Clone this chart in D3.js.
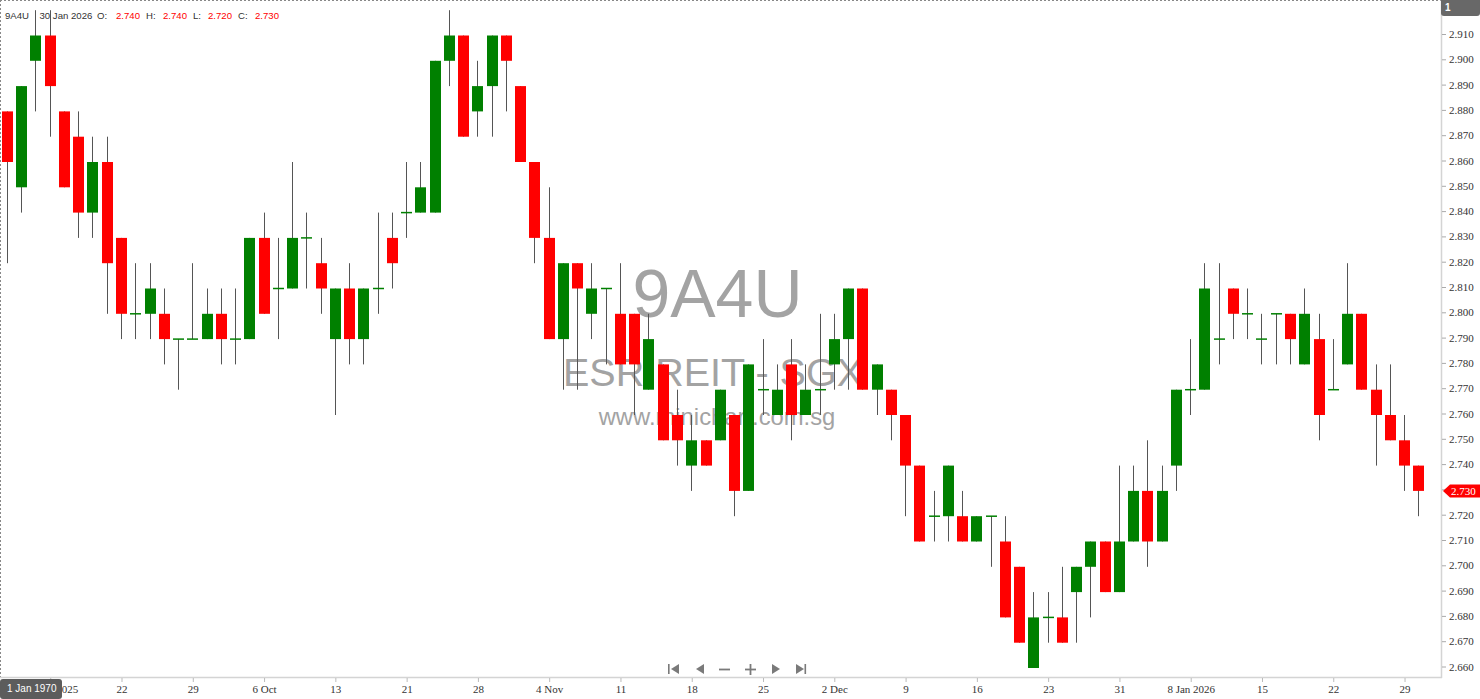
<!DOCTYPE html>
<html><head><meta charset="utf-8">
<script src="https://cdn.jsdelivr.net/npm/d3@7"></script>
<style>html,body{margin:0;padding:0;background:#fff;overflow:hidden}</style>
</head><body>
<svg id="chart" width="1480" height="699"></svg>
<script>
const dates = [
"2025-09-10","2025-09-11","2025-09-12","2025-09-15","2025-09-16","2025-09-17","2025-09-18","2025-09-19","2025-09-22","2025-09-23",
"2025-09-24","2025-09-25","2025-09-26","2025-09-29","2025-09-30","2025-10-01","2025-10-02","2025-10-03","2025-10-06","2025-10-07",
"2025-10-08","2025-10-09","2025-10-10","2025-10-13","2025-10-14","2025-10-15","2025-10-16","2025-10-17","2025-10-21","2025-10-22",
"2025-10-23","2025-10-24","2025-10-27","2025-10-28","2025-10-29","2025-10-30","2025-10-31","2025-11-03","2025-11-04","2025-11-05",
"2025-11-06","2025-11-07","2025-11-10","2025-11-11","2025-11-12","2025-11-13","2025-11-14","2025-11-17","2025-11-18","2025-11-19",
"2025-11-20","2025-11-21","2025-11-24","2025-11-25","2025-11-26","2025-11-27","2025-11-28","2025-12-01","2025-12-02","2025-12-03",
"2025-12-04","2025-12-05","2025-12-08","2025-12-09","2025-12-10","2025-12-11","2025-12-12","2025-12-15","2025-12-16","2025-12-17",
"2025-12-18","2025-12-19","2025-12-22","2025-12-23","2025-12-24","2025-12-26","2025-12-29","2025-12-30","2025-12-31","2026-01-02",
"2026-01-05","2026-01-06","2026-01-07","2026-01-08","2026-01-09","2026-01-12","2026-01-13","2026-01-14","2026-01-15","2026-01-16",
"2026-01-19","2026-01-20","2026-01-21","2026-01-22","2026-01-23","2026-01-26","2026-01-27","2026-01-28","2026-01-29","2026-01-30"];

const open = [
2.88,2.85,2.90,2.91,2.88,2.87,2.84,2.86,2.83,2.80,
2.80,2.80,2.79,2.79,2.79,2.80,2.79,2.79,2.83,2.81,
2.81,2.83,2.82,2.79,2.81,2.79,2.81,2.83,2.84,2.84,
2.84,2.90,2.91,2.88,2.89,2.91,2.89,2.86,2.83,2.79,
2.82,2.80,2.81,2.80,2.80,2.77,2.78,2.76,2.74,2.75,
2.75,2.76,2.73,2.77,2.76,2.78,2.76,2.77,2.78,2.79,
2.81,2.77,2.77,2.76,2.74,2.72,2.72,2.72,2.71,2.72,
2.71,2.70,2.66,2.68,2.68,2.69,2.70,2.71,2.69,2.71,
2.73,2.71,2.74,2.77,2.77,2.79,2.81,2.80,2.79,2.80,
2.80,2.78,2.79,2.77,2.78,2.80,2.77,2.76,2.75,2.74];
const high = [
2.88,2.89,2.92,2.92,2.88,2.88,2.87,2.87,2.83,2.82,
2.82,2.81,2.79,2.82,2.81,2.81,2.81,2.83,2.84,2.83,
2.86,2.84,2.83,2.81,2.82,2.81,2.84,2.84,2.86,2.86,
2.90,2.92,2.91,2.90,2.91,2.91,2.89,2.86,2.85,2.82,
2.82,2.82,2.81,2.82,2.80,2.80,2.78,2.77,2.76,2.75,
2.77,2.76,2.78,2.79,2.78,2.79,2.78,2.80,2.80,2.81,
2.81,2.78,2.77,2.76,2.74,2.73,2.74,2.73,2.72,2.72,
2.72,2.70,2.69,2.69,2.70,2.70,2.71,2.71,2.74,2.74,
2.75,2.74,2.77,2.79,2.82,2.82,2.81,2.81,2.80,2.80,
2.80,2.81,2.80,2.79,2.82,2.80,2.78,2.78,2.76,2.74];
const low = [
2.82,2.84,2.88,2.87,2.85,2.83,2.83,2.80,2.79,2.79,
2.79,2.78,2.77,2.79,2.79,2.78,2.78,2.79,2.80,2.79,
2.81,2.81,2.80,2.76,2.78,2.78,2.80,2.81,2.83,2.84,
2.84,2.89,2.87,2.87,2.87,2.88,2.86,2.82,2.79,2.77,
2.77,2.79,2.78,2.78,2.76,2.77,2.75,2.74,2.73,2.74,
2.75,2.72,2.73,2.76,2.76,2.75,2.76,2.76,2.77,2.77,
2.77,2.76,2.75,2.72,2.71,2.71,2.71,2.71,2.71,2.70,
2.68,2.67,2.66,2.67,2.67,2.67,2.68,2.69,2.69,2.71,
2.70,2.71,2.73,2.76,2.77,2.78,2.79,2.79,2.78,2.78,
2.78,2.78,2.75,2.77,2.78,2.77,2.74,2.75,2.73,2.72];
const close = [
2.86,2.89,2.91,2.89,2.85,2.84,2.86,2.82,2.80,2.80,
2.81,2.79,2.79,2.79,2.80,2.79,2.79,2.83,2.80,2.81,
2.83,2.83,2.81,2.81,2.79,2.81,2.81,2.82,2.84,2.85,
2.90,2.91,2.87,2.89,2.91,2.90,2.86,2.83,2.79,2.82,
2.81,2.81,2.81,2.78,2.78,2.79,2.75,2.75,2.75,2.74,
2.77,2.73,2.78,2.77,2.77,2.76,2.77,2.77,2.79,2.81,
2.77,2.78,2.76,2.74,2.71,2.72,2.74,2.71,2.72,2.72,
2.68,2.67,2.68,2.68,2.67,2.70,2.71,2.69,2.71,2.73,
2.71,2.73,2.77,2.77,2.81,2.79,2.80,2.80,2.79,2.80,
2.79,2.80,2.76,2.77,2.80,2.77,2.76,2.75,2.74,2.73];

const tickDates = ["2025-09-15","2025-09-22","2025-09-29","2025-10-06","2025-10-13","2025-10-21","2025-10-28","2025-11-04","2025-11-11","2025-11-18",
"2025-11-25","2025-12-02","2025-12-09","2025-12-16","2025-12-23","2025-12-31","2026-01-08","2026-01-15","2026-01-22","2026-01-29"];
const tickLabels = ["15 Sep 2025","22","29","6 Oct","13","21","28","4 Nov","11","18","25","2 Dec","9","16","23","31","8 Jan 2026","15","22","29"];
const priceTicks = [2.66,2.67,2.68,2.69,2.70,2.71,2.72,2.73,2.74,2.75,2.76,2.77,2.78,2.79,2.80,2.81,2.82,2.83,2.84,2.85,2.86,2.87,2.88,2.89,2.90,2.91];
const symbol = "9A4U";
const companyName = "ESR REIT - SGX";
const site = "www.minichart.com.sg";

const UP = "#008000", DOWN = "#ff0000", WICK = "#555555";
const svg = d3.select("#chart");
const x = d3.scaleLinear().domain([0, dates.length - 1]).range([6.96, 1418.3]);
const y = d3.scaleLinear().domain([2.66, 2.91]).range([668, 35.5]);
const plotRight = 1441, plotBottom = 677;

// watermark
const wm = svg.append("g").attr("font-family", "'Liberation Sans', Arial, sans-serif").attr("fill", "#a3a3a3").attr("text-anchor", "middle");
wm.append("text").attr("x", 717.5).attr("y", 317).attr("font-size", 68).text(symbol);
wm.append("text").attr("x", 713).attr("y", 386).attr("font-size", 39.5).text(companyName);
wm.append("text").attr("x", 717).attr("y", 425).attr("font-size", 23.8).text(site);

// borders
svg.append("line").attr("x1", 0).attr("x2", plotRight).attr("y1", 0.5).attr("y2", 0.5).attr("stroke", "#888").attr("stroke-dasharray", "2,2");
svg.append("line").attr("x1", 0.5).attr("x2", 0.5).attr("y1", 0).attr("y2", plotBottom).attr("stroke", "#888").attr("stroke-dasharray", "2,2");

// candles
const idx = d3.range(dates.length);
const cx = i => Math.round(x(i)) + 0.5;
const g = svg.append("g");
g.selectAll("line.wick").data(idx).join("line").attr("class", "wick")
  .attr("x1", cx).attr("x2", cx)
  .attr("y1", i => y(high[i])).attr("y2", i => y(low[i]))
  .attr("stroke", WICK).attr("stroke-width", 1);
g.selectAll("rect.body").data(idx.filter(i => open[i] !== close[i])).join("rect").attr("class", "body")
  .attr("x", i => cx(i) - 5.5).attr("width", 11)
  .attr("y", i => y(Math.max(open[i], close[i])))
  .attr("height", i => Math.abs(y(open[i]) - y(close[i])))
  .attr("fill", i => close[i] > open[i] ? UP : DOWN);
g.selectAll("line.doji").data(idx.filter(i => open[i] === close[i])).join("line").attr("class", "doji")
  .attr("x1", i => cx(i) - 5.5).attr("x2", i => cx(i) + 5.5)
  .attr("y1", i => y(close[i])).attr("y2", i => y(close[i]))
  .attr("stroke", UP).attr("stroke-width", 1.5);

// header
const last = dates.length - 1;
const hdr = svg.append("g").attr("font-family", "'Liberation Sans', Arial, sans-serif").attr("font-size", 9.6);
const fmt = d3.format(".3f");
const lastDate = d3.timeFormat("%-d %b %Y")(d3.timeParse("%Y-%m-%d")(dates[last]));
const valColor = close[last] >= open[last] ? UP : DOWN;
[[5, symbol, "#333"], [39.5, lastDate, "#333"], [97, "O:", "#333"], [116, fmt(open[last]), valColor],
 [146, "H:", "#333"], [163, fmt(high[last]), valColor], [193, "L:", "#333"], [208, fmt(low[last]), valColor],
 [238, "C:", "#333"], [255, fmt(close[last]), valColor]].forEach(([px, t, c]) => {
  hdr.append("text").attr("x", px).attr("y", 19).attr("fill", c).text(t);
});

// axes lines
svg.append("line").attr("x1", plotRight + 0.5).attr("x2", plotRight + 0.5).attr("y1", 0).attr("y2", plotBottom + 1).attr("stroke", "#d4d4d4").attr("stroke-width", 1.5);
svg.append("line").attr("x1", 0).attr("x2", plotRight + 1).attr("y1", plotBottom + 0.5).attr("y2", plotBottom + 0.5).attr("stroke", "#d4d4d4").attr("stroke-width", 1.5);

// price axis
const yAxis = d3.axisRight(y).tickValues(priceTicks).tickFormat(fmt).tickSize(4).tickPadding(3);
const ya = svg.append("g").attr("transform", `translate(${plotRight + 1},-1.5)`).call(yAxis);
ya.select(".domain").remove();
ya.selectAll(".tick line").attr("stroke", "#aaa");
ya.selectAll(".tick text").attr("font-family", "'Liberation Serif', 'Times New Roman', serif").attr("font-size", 11).attr("fill", "#333");

// time axis
const tickIdx = tickDates.map(d => dates.indexOf(d));
const xAxis = d3.axisBottom(x).tickValues(tickIdx).tickFormat((d, k) => tickLabels[k]).tickSize(4).tickPadding(3);
const xa = svg.append("g").attr("transform", `translate(0.5,${plotBottom + 1})`).call(xAxis);
xa.select(".domain").remove();
xa.selectAll(".tick line").attr("stroke", "#bbb");
xa.selectAll(".tick text").attr("font-family", "'Liberation Serif', 'Times New Roman', serif").attr("font-size", 11).attr("fill", "#333");

// last price tag
const ly = y(close[last]);
svg.append("path").attr("d", `M${plotRight + 2},${ly} L${plotRight + 9},${ly - 6.5} L1480,${ly - 6.5} L1480,${ly + 6.5} L${plotRight + 9},${ly + 6.5} Z`).attr("fill", DOWN);
svg.append("text").attr("x", 1451).attr("y", ly + 4).attr("font-family", "'Liberation Serif', 'Times New Roman', serif").attr("font-size", 11).attr("fill", "#fff").text(fmt(close[last]));

// top-right box
svg.append("path").attr("d", "M1441,0 L1480,0 L1480,13 Q1480,16 1477,16 L1444,16 Q1441,16 1441,13 Z").attr("fill", "#686868");
svg.append("text").attr("x", 1445).attr("y", 11).attr("font-family", "'Liberation Sans', Arial, sans-serif").attr("font-size", 10).attr("font-weight", "bold").attr("fill", "#fff").text("1");

// date tooltip
svg.append("rect").attr("x", 0).attr("y", 679).attr("width", 62).attr("height", 20).attr("rx", 3).attr("fill", "#5c5c5c");
svg.append("text").attr("x", 7).attr("y", 692).attr("font-family", "'Liberation Sans', Arial, sans-serif").attr("font-size", 10).attr("fill", "#fff").text("1 Jan 1970");

// navigation icons
const nav = svg.append("g").attr("fill", "#7a7a7a").attr("stroke", "#7a7a7a");
nav.append("rect").attr("x", 668).attr("y", 664).attr("width", 1.6).attr("height", 10).attr("stroke", "none");
nav.append("path").attr("d", "M679,664 L671,669 L679,674 Z").attr("stroke", "none");
nav.append("path").attr("d", "M704,664 L696,669 L704,674 Z").attr("stroke", "none");
nav.append("line").attr("x1", 719).attr("x2", 730).attr("y1", 669.5).attr("y2", 669.5).attr("stroke-width", 1.8);
nav.append("line").attr("x1", 745).attr("x2", 756).attr("y1", 669.5).attr("y2", 669.5).attr("stroke-width", 1.8);
nav.append("line").attr("x1", 750.5).attr("x2", 750.5).attr("y1", 664).attr("y2", 675).attr("stroke-width", 1.8);
nav.append("path").attr("d", "M772,664 L780,669 L772,674 Z").attr("stroke", "none");
nav.append("path").attr("d", "M796,664 L804,669 L796,674 Z").attr("stroke", "none");
nav.append("rect").attr("x", 804.5).attr("y", 664).attr("width", 1.6).attr("height", 10).attr("stroke", "none");
</script>
</body></html>
